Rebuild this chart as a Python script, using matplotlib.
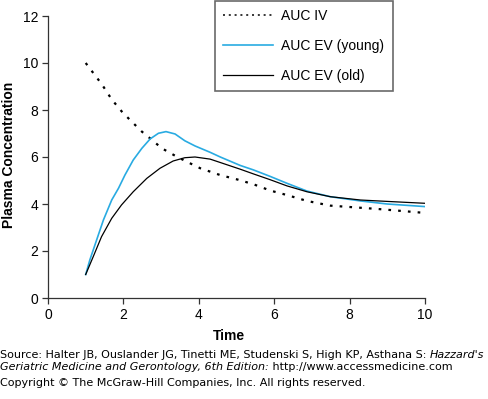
import matplotlib
matplotlib.use("Agg")
import matplotlib.pyplot as plt
from matplotlib.lines import Line2D

# ---- data ----
t_iv = [1.0, 1.43, 1.69, 1.96, 2.18, 2.49, 2.71, 3.02, 3.42, 3.77, 4.04, 4.57,
        5.03, 5.45, 5.90, 6.34, 6.87, 7.49, 8.11, 8.73, 9.26, 10.0]
v_iv = [10.0, 9.09, 8.45, 7.93, 7.57, 7.08, 6.79, 6.37, 6.01, 5.73, 5.52, 5.23,
        5.04, 4.84, 4.57, 4.38, 4.13, 3.93, 3.86, 3.79, 3.72, 3.62]

t_young = [1.0, 1.11, 1.29, 1.47, 1.69, 1.87, 2.04, 2.26, 2.49, 2.71, 2.93, 3.13,
           3.37, 3.63, 3.90, 4.30, 4.57, 5.10, 5.45, 5.90, 6.34, 6.87, 7.49, 8.29,
           9.0, 10.0]
v_young = [1.0, 1.62, 2.47, 3.32, 4.17, 4.67, 5.23, 5.87, 6.37, 6.77, 7.01, 7.08,
           6.98, 6.69, 6.47, 6.20, 6.00, 5.64, 5.45, 5.17, 4.88, 4.55, 4.31, 4.13,
           4.0, 3.89]

t_old = [1.0, 1.20, 1.42, 1.69, 1.95, 2.26, 2.62, 2.97, 3.32, 3.63, 3.90, 4.30,
         4.58, 5.10, 5.45, 5.90, 6.34, 6.87, 7.49, 8.29, 9.0, 10.0]
v_old = [1.0, 1.76, 2.61, 3.39, 3.96, 4.52, 5.09, 5.52, 5.83, 5.97, 6.00, 5.91,
         5.76, 5.48, 5.28, 5.03, 4.77, 4.52, 4.31, 4.17, 4.11, 4.03]

labels = ["AUC IV", "AUC EV (young)", "AUC EV (old)"]
xticks = [0, 2, 4, 6, 8, 10]
yticks = [0, 2, 4, 6, 8, 10, 12]

BLUE = "#29abe2"
W, H = 488, 399

plt.rcParams['font.family'] = ['Liberation Sans', 'DejaVu Sans']
fig = plt.figure(figsize=(W / 100, H / 100), dpi=100)
ax = fig.add_axes([48 / W, 1 - 298 / H, (425 - 48) / W, (298 - 16) / H])

ax.plot(t_iv, v_iv, color="black", lw=1.6, linestyle=(0, (1.2, 3.2)))
ax.plot(t_young, v_young, color=BLUE, lw=1.2)
ax.plot(t_old, v_old, color="black", lw=0.9)

ax.set_xlim(0, 10)
ax.set_ylim(0, 12)
ax.set_xticks(xticks)
ax.set_yticks(yticks)
ax.tick_params(labelsize=10, length=4, width=0.9, color="#333333", pad=3)
for s in ["top", "right"]:
    ax.spines[s].set_visible(False)
for s in ["left", "bottom"]:
    ax.spines[s].set_color("#333333")
    ax.spines[s].set_linewidth(0.9)

ax.set_xlabel("Time", fontsize=10, fontweight="bold")
ax.xaxis.set_label_coords((229 - 48) / (425 - 48), -(329 - 298) / (298 - 16))
ax.set_ylabel("Plasma Concentration", fontsize=10, fontweight="bold")
ax.yaxis.set_label_coords(-(48 - 16) / (425 - 48), (298 - 155) / (298 - 16))

handles = [Line2D([], [], color="black", lw=1.1, linestyle=(0, (1.3, 2.5))),
           Line2D([], [], color=BLUE, lw=1.2),
           Line2D([], [], color="black", lw=0.9)]
leg = fig.legend(handles, labels, loc="upper left",
                 bbox_to_anchor=(214.5 / W, 1 - 0.5 / H), bbox_transform=fig.transFigure,
                 borderaxespad=0, fontsize=10, handlelength=3.6, handletextpad=0.6,
                 labelspacing=1.15, borderpad=0.6, fancybox=False, frameon=True)
leg.get_frame().set_edgecolor("#444444")
leg.get_frame().set_linewidth(1.2)

# ---- footer ----
fs = 8.0
fam = ['DejaVu Sans']
renderer = fig.canvas.get_renderer()


def draw_line(parts, y_px):
    x = 0.0
    for txt, style in parts:
        t = fig.text(x / W, 1 - y_px / H, txt, fontsize=fs, family=fam, style=style,
                     va="center", ha="left")
        bb = t.get_window_extent(renderer=renderer)
        x += bb.width


draw_line([("Source: Halter JB, Ouslander JG, Tinetti ME, Studenski S, High KP, Asthana S: ", "normal"),
           ("Hazzard's", "italic")], 355)
draw_line([("Geriatric Medicine and Gerontology, 6th Edition:", "italic"),
           (" http://www.accessmedicine.com", "normal")], 367)
draw_line([("Copyright \u00a9 The McGraw-Hill Companies, Inc. All rights reserved.", "normal")], 383)

fig.savefig("out.png", dpi=100)
